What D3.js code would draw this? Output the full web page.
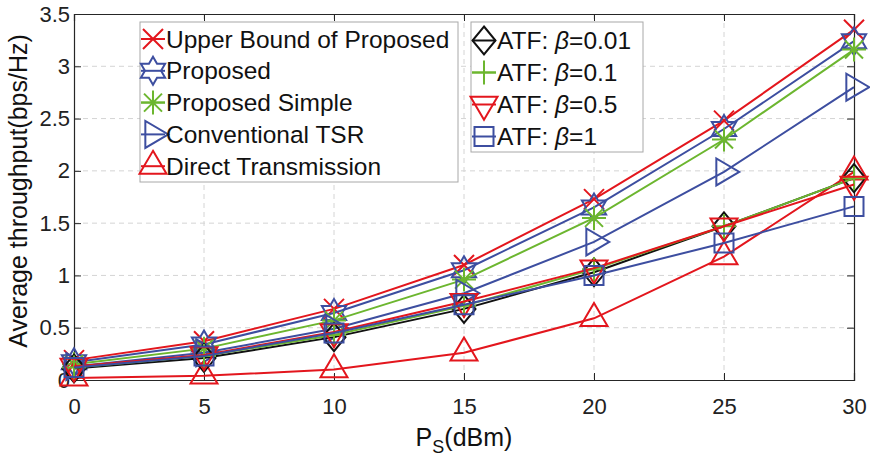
<!DOCTYPE html>
<html lang="en">
<head>
    <meta charset="UTF-8">
    <title>Average throughput vs P_S</title>
    <style>
        body {
            margin: 0;
            background: #fff;
            font-family: 'Liberation Sans', Arial, sans-serif;
        }
        .grid line {
            stroke: #d4d4d4;
            stroke-dasharray: 5,4;
            stroke-width: 1;
        }
        .tick-label {
            font-size: 22px;
            fill: #222;
        }
    </style>
    <script src="https://d3js.org/d3.v7.min.js"></script>
</head>
<body>
<div id="chart"></div>
<script>
    // chart values
    var xVals = [0, 5, 10, 15, 20, 25, 30];
    var xTicks = [0, 5, 10, 15, 20, 25, 30];
    var yTicks = [0, 0.5, 1, 1.5, 2, 2.5, 3, 3.5];

    var upperBound      = [0.19, 0.37, 0.68, 1.10, 1.73, 2.48, 3.35];
    var proposed        = [0.17, 0.34, 0.64, 1.05, 1.65, 2.40, 3.24];
    var proposedSimple  = [0.15, 0.30, 0.57, 0.96, 1.55, 2.30, 3.16];
    var conventionalTSR = [0.13, 0.26, 0.49, 0.83, 1.32, 1.99, 2.80];
    var directTx        = [0.02, 0.04, 0.10, 0.26, 0.59, 1.18, 1.99];
    var atf001          = [0.11, 0.21, 0.41, 0.68, 1.03, 1.47, 1.93];
    var atf01           = [0.12, 0.23, 0.43, 0.71, 1.06, 1.47, 1.93];
    var atf05           = [0.13, 0.24, 0.46, 0.75, 1.07, 1.47, 1.87];
    var atf1            = [0.12, 0.23, 0.45, 0.72, 1.00, 1.31, 1.66];

    var red = "#e3161d", blue = "#3d4ea0", green = "#6cb62f", black = "#111";

    var series = [
        {name: "Upper Bound of Proposed", values: upperBound, color: red, marker: "x"},
        {name: "Proposed", values: proposed, color: blue, marker: "hexagram"},
        {name: "Proposed Simple", values: proposedSimple, color: green, marker: "asterisk"},
        {name: "Conventional TSR", values: conventionalTSR, color: blue, marker: "triRight"},
        {name: "Direct Transmission", values: directTx, color: red, marker: "triUp"},
        {name: "0.01", values: atf001, color: black, marker: "diamond", atf: true},
        {name: "0.1", values: atf01, color: green, marker: "plus", atf: true},
        {name: "0.5", values: atf05, color: red, marker: "triDown", atf: true},
        {name: "1", values: atf1, color: blue, marker: "square", atf: true}
    ];

    var width = 870, height = 456;
    var plotLeft = 74, plotRight = 854, plotTop = 14, plotBottom = 380;

    var svg = d3.select("#chart").append("svg")
        .attr("width", width)
        .attr("height", height);

    var x = d3.scaleLinear().domain([0, 30]).range([plotLeft, plotRight]);
    var y = d3.scaleLinear().domain([0, 3.5]).range([plotBottom, plotTop]);

    // marker outlines
    function markerPath(type) {
        var p = d3.path();
        if (type === "x") {
            var a = 10;
            p.moveTo(-a, -a); p.lineTo(a, a);
            p.moveTo(-a, a); p.lineTo(a, -a);
        } else if (type === "plus") {
            var b = 12;
            p.moveTo(-b, 0); p.lineTo(b, 0);
            p.moveTo(0, -b); p.lineTo(0, b);
        } else if (type === "asterisk") {
            var c = 12, d = 9;
            p.moveTo(-c, 0); p.lineTo(c, 0);
            p.moveTo(0, -c); p.lineTo(0, c);
            p.moveTo(-d, -d); p.lineTo(d, d);
            p.moveTo(-d, d); p.lineTo(d, -d);
        } else if (type === "hexagram") {
            var ro = 14, ri = 14 / Math.sqrt(3);
            for (var i = 0; i < 12; i++) {
                var ang = -Math.PI / 2 + i * Math.PI / 6;
                var r = i % 2 === 0 ? ro : ri;
                if (i === 0) p.moveTo(r * Math.cos(ang), r * Math.sin(ang));
                else p.lineTo(r * Math.cos(ang), r * Math.sin(ang));
            }
            p.closePath();
        } else if (type === "triUp") {
            var w = 13.5, h = 23;
            p.moveTo(0, -2 * h / 3); p.lineTo(w, h / 3); p.lineTo(-w, h / 3); p.closePath();
        } else if (type === "triDown") {
            var w2 = 13.5, h2 = 23;
            p.moveTo(0, 2 * h2 / 3); p.lineTo(w2, -h2 / 3); p.lineTo(-w2, -h2 / 3); p.closePath();
        } else if (type === "triRight") {
            var w3 = 23, h3 = 13.5;
            p.moveTo(2 * w3 / 3, 0); p.lineTo(-w3 / 3, h3); p.lineTo(-w3 / 3, -h3); p.closePath();
        } else if (type === "diamond") {
            p.moveTo(0, -14); p.lineTo(11.5, 0); p.lineTo(0, 14); p.lineTo(-11.5, 0); p.closePath();
        } else if (type === "square") {
            p.rect(-9.5, -9.5, 19, 19);
        }
        return p.toString();
    }

    // grid
    var grid = svg.append("g").attr("class", "grid");
    grid.selectAll(".gx").data(xTicks.slice(1, -1)).enter().append("line")
        .attr("x1", function(d) { return x(d); }).attr("x2", function(d) { return x(d); })
        .attr("y1", plotTop).attr("y2", plotBottom);
    grid.selectAll(".gy").data(yTicks.slice(1, -1)).enter().append("line")
        .attr("x1", plotLeft).attr("x2", plotRight)
        .attr("y1", function(d) { return y(d); }).attr("y2", function(d) { return y(d); });

    // axes (ticks point inward, box all round)
    var tickLen = 7;
    var axisColor = "#262626";
    function styleAxis(g) {
        g.select(".domain").attr("stroke", axisColor).attr("stroke-width", 1.2);
        g.selectAll(".tick line").attr("stroke", axisColor);
        g.selectAll("text").attr("class", "tick-label").style("font-family", "'Liberation Sans', Arial, sans-serif");
    }
    svg.append("g").attr("transform", "translate(0," + plotBottom + ")")
        .call(d3.axisBottom(x).tickValues(xTicks).tickSize(-tickLen).tickPadding(18).tickFormat(d3.format("d")))
        .call(styleAxis);
    svg.append("g").attr("transform", "translate(0," + plotTop + ")")
        .call(d3.axisTop(x).tickValues(xTicks).tickSize(-tickLen).tickFormat(""))
        .call(styleAxis);
    svg.append("g").attr("transform", "translate(" + plotLeft + ",0)")
        .call(d3.axisLeft(y).tickValues(yTicks).tickSize(-tickLen).tickPadding(4).tickFormat(d3.format("")))
        .call(styleAxis);
    svg.append("g").attr("transform", "translate(" + plotRight + ",0)")
        .call(d3.axisRight(y).tickValues(yTicks).tickSize(-tickLen).tickFormat(""))
        .call(styleAxis);

    // axis titles
    svg.append("text")
        .attr("transform", "translate(27,191) rotate(-90)")
        .attr("text-anchor", "middle")
        .style("font-size", "25px")
        .style("fill", "#111")
        .text("Average throughput(bps/Hz)");

    var xl = svg.append("text")
        .attr("x", 464).attr("y", 446)
        .attr("text-anchor", "middle")
        .style("font-size", "25px")
        .style("fill", "#111");
    xl.append("tspan").text("P");
    xl.append("tspan").attr("dy", 7).style("font-size", "18px").text("S");
    xl.append("tspan").attr("dy", -7).text("(dBm)");

    // series
    var line = d3.line()
        .x(function(d) { return x(d[0]); })
        .y(function(d) { return y(d[1]); });

    series.forEach(function(s) {
        var pts = xVals.map(function(v, i) { return [v, s.values[i]]; });
        var g = svg.append("g");
        g.append("path")
            .datum(pts)
            .attr("d", line)
            .attr("fill", "none")
            .attr("stroke", s.color)
            .attr("stroke-width", 2);
        g.selectAll(".m").data(pts).enter().append("path")
            .attr("transform", function(d) { return "translate(" + x(d[0]) + "," + y(d[1]) + ")"; })
            .attr("d", markerPath(s.marker))
            .attr("fill", "none")
            .attr("stroke", s.color)
            .attr("stroke-width", 2);
    });

    // legends
    function drawLegend(items, bx, by, bw, bh, mx, tx, rowY, rowStep) {
        var lg = svg.append("g");
        lg.append("rect")
            .attr("x", bx).attr("y", by).attr("width", bw).attr("height", bh)
            .attr("fill", "#fff").attr("stroke", "#a8a8a8").attr("stroke-width", 1);
        items.forEach(function(s, i) {
            var cy = rowY + i * rowStep;
            lg.append("line")
                .attr("x1", mx - 12).attr("x2", mx + 12)
                .attr("y1", cy).attr("y2", cy)
                .attr("stroke", s.color).attr("stroke-width", 2);
            lg.append("path")
                .attr("transform", "translate(" + mx + "," + cy + ")")
                .attr("d", markerPath(s.marker))
                .attr("fill", "none").attr("stroke", s.color).attr("stroke-width", 2);
            var t = lg.append("text")
                .attr("x", tx).attr("y", cy + 8.5)
                .style("font-size", "24.5px").style("fill", "#111");
            if (s.atf) {
                t.append("tspan").text("ATF: ");
                t.append("tspan").style("font-style", "italic").text("\u03B2");
                t.append("tspan").text("=" + s.name);
            } else {
                t.text(s.name);
            }
        });
    }

    drawLegend(series.slice(0, 5), 140, 22, 318, 160, 153, 166, 39, 31.8);
    drawLegend(series.slice(5), 471, 22, 172, 130, 484, 497, 40.5, 32);
</script>
</body>
</html>
